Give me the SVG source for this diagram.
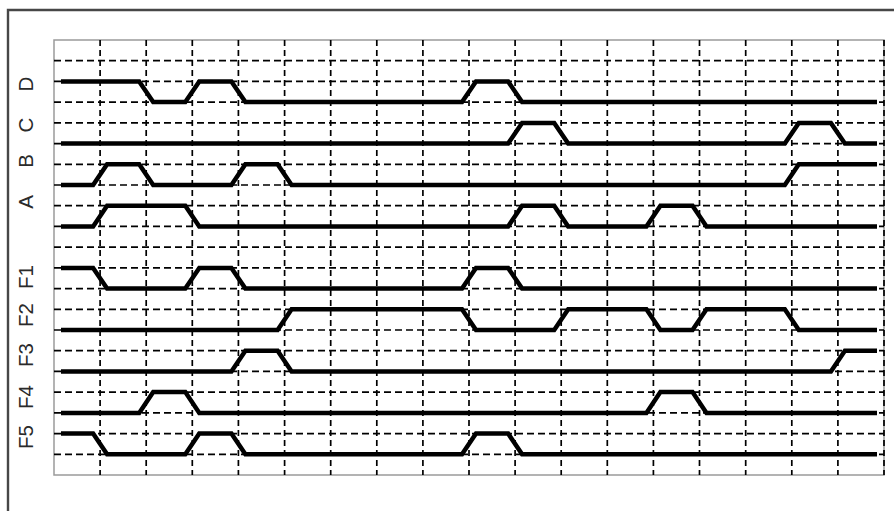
<svg xmlns="http://www.w3.org/2000/svg" width="894" height="511" viewBox="0 0 894 511">
<style>
.frame{fill:none;stroke:#474747;stroke-width:2.4}
.plot{fill:#fff;stroke:#9a9a9a;stroke-width:1.5}
.vg{stroke:#000;stroke-width:1.7;stroke-dasharray:6 4}
.hg{stroke:#000;stroke-width:1.7;stroke-dasharray:7 4}
.sig{fill:none;stroke:#000;stroke-width:4.5;stroke-linejoin:miter;stroke-linecap:butt}
.lbl{font-family:"Liberation Sans",Arial,sans-serif;font-size:20.5px;fill:#2a2a2a;text-anchor:middle}
</style>
<rect width="894" height="511" fill="#fff"/>
<path class="frame" d="M8,511 V10 H894"/>
<rect class="plot" x="54" y="40" width="830" height="435"/>
<g id="grid">
<g class="vg">
<line x1="100.1" y1="40" x2="100.1" y2="475"/>
<line x1="146.2" y1="40" x2="146.2" y2="475"/>
<line x1="192.3" y1="40" x2="192.3" y2="475"/>
<line x1="238.4" y1="40" x2="238.4" y2="475"/>
<line x1="284.6" y1="40" x2="284.6" y2="475"/>
<line x1="330.7" y1="40" x2="330.7" y2="475"/>
<line x1="376.8" y1="40" x2="376.8" y2="475"/>
<line x1="422.9" y1="40" x2="422.9" y2="475"/>
<line x1="469" y1="40" x2="469" y2="475"/>
<line x1="515.1" y1="40" x2="515.1" y2="475"/>
<line x1="561.2" y1="40" x2="561.2" y2="475"/>
<line x1="607.3" y1="40" x2="607.3" y2="475"/>
<line x1="653.4" y1="40" x2="653.4" y2="475"/>
<line x1="699.5" y1="40" x2="699.5" y2="475"/>
<line x1="745.7" y1="40" x2="745.7" y2="475"/>
<line x1="791.8" y1="40" x2="791.8" y2="475"/>
<line x1="837.9" y1="40" x2="837.9" y2="475"/>
<line x1="884" y1="40" x2="884" y2="475"/>
</g>
<g class="hg">
<line x1="54" y1="60.7" x2="884" y2="60.7"/>
<line x1="54" y1="81.4" x2="884" y2="81.4"/>
<line x1="54" y1="102.1" x2="884" y2="102.1"/>
<line x1="54" y1="122.9" x2="884" y2="122.9"/>
<line x1="54" y1="143.6" x2="884" y2="143.6"/>
<line x1="54" y1="164.3" x2="884" y2="164.3"/>
<line x1="54" y1="185" x2="884" y2="185"/>
<line x1="54" y1="205.7" x2="884" y2="205.7"/>
<line x1="54" y1="226.4" x2="884" y2="226.4"/>
<line x1="54" y1="247.1" x2="884" y2="247.1"/>
<line x1="54" y1="267.9" x2="884" y2="267.9"/>
<line x1="54" y1="288.6" x2="884" y2="288.6"/>
<line x1="54" y1="309.3" x2="884" y2="309.3"/>
<line x1="54" y1="330" x2="884" y2="330"/>
<line x1="54" y1="350.7" x2="884" y2="350.7"/>
<line x1="54" y1="371.4" x2="884" y2="371.4"/>
<line x1="54" y1="392.1" x2="884" y2="392.1"/>
<line x1="54" y1="412.9" x2="884" y2="412.9"/>
<line x1="54" y1="433.6" x2="884" y2="433.6"/>
<line x1="54" y1="454.3" x2="884" y2="454.3"/>
</g>
</g>
<g id="connectors"></g>
<g id="sig-D">
<text class="lbl" transform="translate(25.5,84) rotate(-90)" y="7.4">D</text>
<path class="sig" d="M61,81.4 H139.2 L153.2,102.1 H185.3 L199.3,81.4 H231.4 L245.4,102.1 H462 L476,81.4 H508.1 L522.1,102.1 H877"/>
</g>
<g id="sig-C">
<text class="lbl" transform="translate(25.5,125) rotate(-90)" y="7.4">C</text>
<path class="sig" d="M61,143.6 H508.1 L522.1,122.9 H554.2 L568.2,143.6 H784.8 L798.8,122.9 H830.9 L844.9,143.6 H877"/>
</g>
<g id="sig-B">
<text class="lbl" transform="translate(25.5,161) rotate(-90)" y="7.4">B</text>
<path class="sig" d="M61,185 H93.1 L107.1,164.3 H139.2 L153.2,185 H231.4 L245.4,164.3 H277.6 L291.6,185 H784.8 L798.8,164.3 H877"/>
</g>
<g id="sig-A">
<text class="lbl" transform="translate(25.5,202) rotate(-90)" y="7.4">A</text>
<path class="sig" d="M61,226.4 H93.1 L107.1,205.7 H185.3 L199.3,226.4 H508.1 L522.1,205.7 H554.2 L568.2,226.4 H646.4 L660.4,205.7 H692.5 L706.5,226.4 H877"/>
</g>
<g id="sig-F1">
<text class="lbl" transform="translate(25.5,277) rotate(-90)" y="7.4">F1</text>
<path class="sig" d="M61,267.9 H93.1 L107.1,288.6 H185.3 L199.3,267.9 H231.4 L245.4,288.6 H462 L476,267.9 H508.1 L522.1,288.6 H877"/>
</g>
<g id="sig-F2">
<text class="lbl" transform="translate(25.5,315) rotate(-90)" y="7.4">F2</text>
<path class="sig" d="M61,330 H277.6 L291.6,309.3 H462 L476,330 H554.2 L568.2,309.3 H646.4 L660.4,330 H692.5 L706.5,309.3 H784.8 L798.8,330 H877"/>
</g>
<g id="sig-F3">
<text class="lbl" transform="translate(25.5,355) rotate(-90)" y="7.4">F3</text>
<path class="sig" d="M61,371.4 H231.4 L245.4,350.7 H277.6 L291.6,371.4 H830.9 L844.9,350.7 H877"/>
</g>
<g id="sig-F4">
<text class="lbl" transform="translate(25.5,397) rotate(-90)" y="7.4">F4</text>
<path class="sig" d="M61,412.9 H139.2 L153.2,392.1 H185.3 L199.3,412.9 H646.4 L660.4,392.1 H692.5 L706.5,412.9 H877"/>
</g>
<g id="sig-F5">
<text class="lbl" transform="translate(25.5,437) rotate(-90)" y="7.4">F5</text>
<path class="sig" d="M61,433.6 H93.1 L107.1,454.3 H185.3 L199.3,433.6 H231.4 L245.4,454.3 H462 L476,433.6 H508.1 L522.1,454.3 H877"/>
</g>
</svg>
